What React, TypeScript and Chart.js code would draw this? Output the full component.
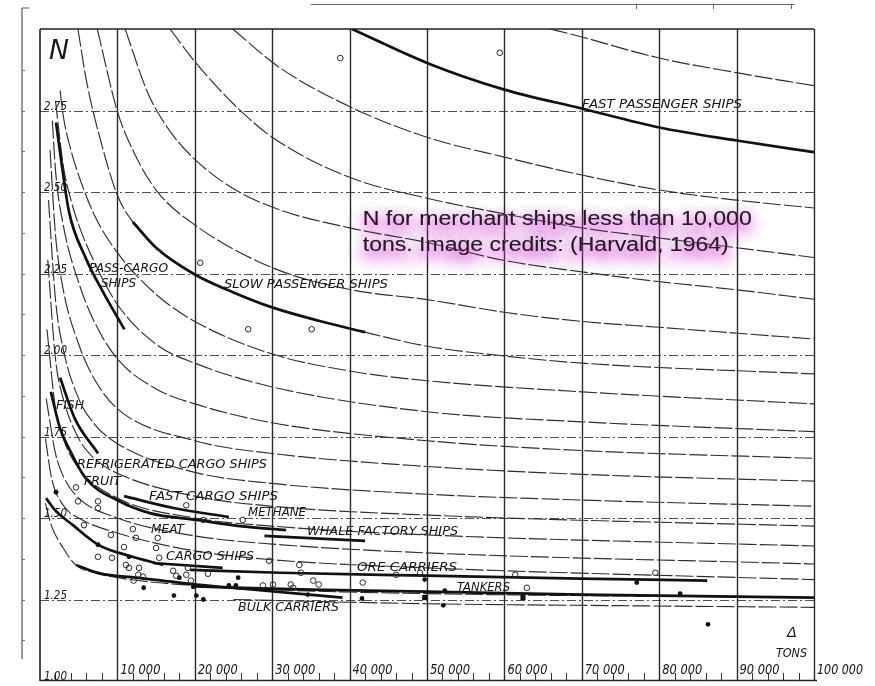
import React, { useEffect, useRef } from "react";
import { Chart, registerables } from "chart.js";

Chart.register(...registerables);

// Displacement in thousands of tons, paired with N.
// Thin iso-curves of the diagram, from top-right to bottom-left.
const isoA: [number, number][] = [[65.9, 3.0], [68.5, 2.985], [80, 2.911], [90, 2.866], [100, 2.826]];
const isoB: [number, number][] = [[24.9, 3.0], [31, 2.881], [40, 2.762], [50, 2.668], [60, 2.607], [70, 2.552], [80, 2.506], [90, 2.475], [100, 2.451]];
const isoC: [number, number][] = [[16.8, 3.0], [20, 2.9], [25, 2.77], [30, 2.668], [40, 2.545], [50, 2.481], [60, 2.433], [70, 2.39], [80, 2.359], [90, 2.329], [100, 2.299]];
const isoD: [number, number][] = [[11, 3.0], [14, 2.8], [17, 2.68], [20, 2.6], [25, 2.51], [31, 2.445], [40, 2.39], [50, 2.345], [60, 2.29], [70, 2.255], [80, 2.225], [90, 2.2], [100, 2.171]];
const isoE: [number, number][] = [[7.4, 3.0], [10, 2.747], [12, 2.628], [15, 2.506], [20, 2.399], [30, 2.268], [40, 2.201], [50, 2.17], [60, 2.131], [70, 2.103], [80, 2.085], [100, 2.049]];
const isoF: [number, number][] = [[4.9, 3.0], [6, 2.841], [8, 2.643], [10, 2.49], [12, 2.408], [15, 2.329], [20, 2.247], [25, 2.192], [30, 2.146], [42, 2.07], [50, 2.027], [60, 1.997], [70, 1.975], [100, 1.942]];
const isoG: [number, number][] = [[2.6, 2.811], [3, 2.734], [4, 2.628], [5, 2.551], [7, 2.43], [10, 2.314], [15, 2.186], [20, 2.103], [30, 2.003], [40, 1.951], [50, 1.921], [70, 1.887], [100, 1.85]];
const isoH: [number, number][] = [[2, 2.78], [3, 2.582], [4, 2.475], [5, 2.399], [7, 2.286], [10, 2.155], [15, 2.033], [20, 1.975], [30, 1.902], [50, 1.826], [70, 1.795], [100, 1.765]];
const isoI: [number, number][] = [[1.6, 2.719], [2, 2.567], [3, 2.399], [5, 2.222], [7, 2.103], [10, 1.988], [15, 1.896], [20, 1.85], [30, 1.792], [50, 1.737], [70, 1.707], [100, 1.683]];
const isoJ: [number, number][] = [[1.3, 2.628], [2, 2.369], [3, 2.201], [5, 2.033], [7, 1.927], [10, 1.835], [20, 1.737], [30, 1.698], [50, 1.658], [70, 1.634], [100, 1.613]];
const isoK: [number, number][] = [[1.1, 2.475], [2, 2.17], [3, 2.018], [5, 1.866], [7, 1.789], [10, 1.728], [20, 1.64], [30, 1.606], [50, 1.573], [70, 1.555], [100, 1.536]];
const isoL: [number, number][] = [[1, 2.292], [2, 1.988], [3, 1.866], [5, 1.744], [7, 1.683], [10, 1.637], [20, 1.567], [30, 1.536], [50, 1.509], [100, 1.475]];
const isoM: [number, number][] = [[0.9, 2.079], [2, 1.835], [3, 1.744], [5, 1.652], [10, 1.561], [20, 1.5], [30, 1.475], [50, 1.448], [100, 1.414]];
const isoN: [number, number][] = [[0.8, 1.866], [2, 1.698], [3, 1.628], [5, 1.561], [10, 1.5], [20, 1.445], [30, 1.42], [50, 1.393], [100, 1.359]];
const isoO: [number, number][] = [[0.7, 1.744], [1.5, 1.622], [3, 1.539], [5, 1.5], [10, 1.454], [20, 1.399], [30, 1.372], [50, 1.347], [100, 1.311]];
const isoP: [number, number][] = [[0.7, 1.545], [1.5, 1.475], [3, 1.408], [4.6, 1.356], [7, 1.332], [10, 1.317], [15, 1.302], [20, 1.293], [30, 1.28], [50, 1.268], [100, 1.256]];

// Mean lines for each ship type
const fastPassenger: [number, number][] = [[40.3, 3.0], [50, 2.896], [60, 2.814], [70, 2.756], [80, 2.698], [90, 2.658], [100, 2.622]];
const slowPassenger: [number, number][] = [[12, 2.408], [15, 2.329], [20, 2.247], [25, 2.192], [30, 2.146], [36, 2.105], [42, 2.07]];
const passCargo: [number, number][] = [[2.07, 2.713], [2.7, 2.603], [3.75, 2.439], [5.9, 2.298], [8.1, 2.195], [10.9, 2.079]];
const fish: [number, number][] = [[2.6, 1.93], [4.5, 1.805], [7.5, 1.698]];
const refrigerated: [number, number][] = [[1.4, 1.887], [2.6, 1.774], [3.75, 1.713], [5.9, 1.622], [10.2, 1.552], [14.2, 1.515], [20.2, 1.494], [25.8, 1.475], [31.8, 1.463]];
const fastCargo: [number, number][] = [[10.85, 1.567], [17.4, 1.53], [24.4, 1.503]];
const whaleFactory: [number, number][] = [[29, 1.445], [42, 1.43]];
const cargoShips: [number, number][] = [[0.78, 1.561], [1.94, 1.524], [4.26, 1.478], [7.6, 1.417], [11.5, 1.384], [15.9, 1.356]];
const cargoShipsUpper: [number, number][] = [[14.6, 1.362], [23.6, 1.347]];
const oreCarriers: [number, number][] = [[19.4, 1.341], [31, 1.332], [50, 1.323], [69.8, 1.314], [86.2, 1.308]];
const tankers: [number, number][] = [[20, 1.29], [35, 1.28], [50, 1.274], [70, 1.265], [100, 1.256]];
const bulkCarriers: [number, number][] = [[4.65, 1.356], [7.75, 1.33], [12.4, 1.317], [20.2, 1.296], [26.2, 1.283], [39.1, 1.256]];
const bulkCarriersTail: [number, number][] = [[25, 1.25], [50, 1.237], [75, 1.231], [100, 1.226]];

// Individual ships
const openShips: [number, number][] = [
  [38.8, 2.911], [59.4, 2.927], [20.7, 2.283], [26.9, 2.079], [35.1, 2.079],
  [4.65, 1.594], [4.91, 1.551], [7.49, 1.551], [7.49, 1.53], [5.68, 1.478], [9.17, 1.448],
  [12.0, 1.466], [12.4, 1.439], [10.85, 1.411], [7.49, 1.381], [9.3, 1.378], [11.1, 1.356],
  [11.5, 1.347], [12.8, 1.347], [12.7, 1.326], [13.3, 1.32], [12.1, 1.308], [17.2, 1.338],
  [17.6, 1.323], [18.9, 1.326], [19.5, 1.308], [19.1, 1.347], [15.2, 1.439], [15.0, 1.408],
  [15.4, 1.378], [18.9, 1.539], [21.1, 1.494], [26.2, 1.494], [21.7, 1.329], [29.6, 1.369],
  [33.5, 1.356], [33.7, 1.332], [28.8, 1.293], [30.1, 1.296], [32.4, 1.296], [32.7, 1.286],
  [35.3, 1.308], [36.0, 1.296], [41.7, 1.302], [46.0, 1.326], [49.1, 1.332], [61.4, 1.326],
  [62.9, 1.286], [79.5, 1.332],
];
const filledShips: [number, number][] = [
  [2.07, 1.579], [7.49, 1.418], [11.5, 1.381], [13.4, 1.286], [17.3, 1.262], [18.0, 1.317],
  [19.8, 1.289], [20.2, 1.262], [21.1, 1.25], [24.4, 1.293], [25.6, 1.317], [25.3, 1.293],
  [34.6, 1.265], [41.6, 1.253], [49.7, 1.311], [52.3, 1.277], [52.1, 1.232], [77.1, 1.302],
  [82.7, 1.268], [86.3, 1.174],
];
const squareShips: [number, number][] = [[49.7, 1.256], [62.4, 1.256]];
const outsideShips: [number, number][] = [[101.4, 1.22]];

// Axis labelling
const tonTicks = ["10 000", "20 000", "30 000", "40 000", "50 000", "60 000", "70 000", "80 000", "90 000", "100 000"];
const nTicks = ["1.00", "1.25", "1.50", "1.75", "2.00", "2.25", "2.50", "2.75"];

const typeLabels: { text: string; t: number; n: number; w: number }[] = [
  { text: "FAST PASSENGER SHIPS", t: 70030, n: 2.759, w: 160 },
  { text: "SLOW PASSENGER SHIPS", t: 23770, n: 2.207, w: 164 },
  { text: "PASS-CARGO", t: 6330, n: 2.256, w: 79 },
  { text: "SHIPS", t: 7880, n: 2.21, w: 35 },
  { text: "FISH", t: 2070, n: 1.835, w: 28 },
  { text: "REFRIGERATED CARGO SHIPS", t: 4780, n: 1.652, w: 190 },
  { text: "FRUIT", t: 5680, n: 1.6, w: 37 },
  { text: "FAST CARGO SHIPS", t: 14080, n: 1.555, w: 129 },
  { text: "METHANE", t: 26870, n: 1.506, w: 58 },
  { text: "MEAT", t: 14340, n: 1.454, w: 33 },
  { text: "WHALE FACTORY SHIPS", t: 34500, n: 1.448, w: 151 },
  { text: "CARGO SHIPS", t: 16280, n: 1.372, w: 88 },
  { text: "ORE CARRIERS", t: 40960, n: 1.338, w: 100 },
  { text: "TANKERS", t: 53880, n: 1.277, w: 53 },
  { text: "BULK CARRIERS", t: 25580, n: 1.216, w: 101 },
  { text: "TONS", t: 95090, n: 1.073, w: 31 },
];

const captionLines = ["N for merchant ships less than 10,000", "tons. Image credits: (Harvald, 1964)"];

const toPts = (arr: [number, number][]) => arr.map(([t, n]) => ({ x: t * 1000, y: n }));

const thinCurve = (arr: [number, number][]) => ({
  data: toPts(arr),
  showLine: true,
  pointRadius: 0,
  borderColor: "#2f2f2f",
  borderWidth: 1.15,
  borderDash: [18, 3],
  cubicInterpolationMode: "monotone" as const,
  fill: false,
});

const thickCurve = (arr: [number, number][]) => ({
  data: toPts(arr),
  showLine: true,
  pointRadius: 0,
  borderColor: "#111",
  borderWidth: 2.7,
  cubicInterpolationMode: "monotone" as const,
  fill: false,
});

const LABEL_FONT = "'DejaVu Sans', sans-serif";

function fitText(ctx: CanvasRenderingContext2D, text: string, x: number, base: number, w: number, size: number, italic = true, family = LABEL_FONT) {
  ctx.font = `${italic ? "italic " : ""}${size}px ${family}`;
  const m = ctx.measureText(text).width;
  ctx.save();
  ctx.translate(x, base);
  ctx.scale(w / m, 1);
  ctx.fillText(text, 0, 0);
  ctx.restore();
}

const paperPlugin = {
  id: "paper",
  beforeDraw(chart: any) {
    const { ctx, width, height } = chart;
    ctx.save();
    ctx.fillStyle = "#ffffff";
    ctx.fillRect(0, 0, width, height);
    ctx.restore();
  },
  beforeDatasetsDraw(chart: any) {
    const { ctx, chartArea: a, scales } = chart;
    const sx = scales.x;
    const sy = scales.y;
    ctx.save();

    // dash-dot horizontal grid
    ctx.strokeStyle = "#505050";
    ctx.lineWidth = 1;
    ctx.setLineDash([9, 3, 2, 3]);
    for (let i = 1; i < nTicks.length; i++) {
      const py = Math.round(sy.getPixelForValue(1 + i * 0.25)) + 0.5;
      ctx.beginPath();
      ctx.moveTo(a.left, py);
      ctx.lineTo(a.right, py);
      ctx.stroke();
    }

    // solid vertical grid every 10 000 tons
    ctx.setLineDash([]);
    ctx.strokeStyle = "#2a2a2a";
    ctx.lineWidth = 1.4;
    for (let i = 1; i <= tonTicks.length; i++) {
      const px = Math.round(sx.getPixelForValue(i * 10000)) + 0.5;
      ctx.beginPath();
      ctx.moveTo(px, a.top);
      ctx.lineTo(px, a.bottom);
      ctx.stroke();
    }

    // frame
    ctx.strokeStyle = "#222";
    ctx.lineWidth = 1.6;
    ctx.beginPath();
    ctx.moveTo(a.left, a.top);
    ctx.lineTo(a.right, a.top);
    ctx.moveTo(a.left, a.top);
    ctx.lineTo(a.left, a.bottom);
    ctx.moveTo(a.left, a.bottom - 0.5);
    ctx.lineTo(a.right + 3, a.bottom - 0.5);
    ctx.stroke();

    // minor ticks every 2 000 tons
    ctx.lineWidth = 1;
    ctx.strokeStyle = "#333";
    for (let t = 2000; t < 100000; t += 2000) {
      if (t % 10000 === 0) continue;
      const px = Math.round(sx.getPixelForValue(t)) + 0.5;
      ctx.beginPath();
      ctx.moveTo(px, a.bottom);
      ctx.lineTo(px, a.bottom - 8);
      ctx.stroke();
    }

    // outer scale line on the left and top margin
    ctx.strokeStyle = "#555";
    ctx.lineWidth = 1.2;
    ctx.beginPath();
    ctx.moveTo(a.left - 18, 8);
    ctx.lineTo(a.left - 18, a.bottom - 22);
    ctx.moveTo(a.left - 18, 8);
    ctx.lineTo(a.left - 11, 8);
    ctx.stroke();
    ctx.lineWidth = 1;
    ctx.strokeStyle = "#777";
    for (let v = 1.125; v < 3; v += 0.125) {
      const py = Math.round(sy.getPixelForValue(v)) + 0.5;
      ctx.beginPath();
      ctx.moveTo(a.left - 18, py);
      ctx.lineTo(a.left - 15, py);
      ctx.stroke();
    }
    ctx.strokeStyle = "#666";
    ctx.beginPath();
    ctx.moveTo(sx.getPixelForValue(35000), 4.5);
    ctx.lineTo(sx.getPixelForValue(97500), 4.5);
    ctx.stroke();
    for (const t of [77000, 87000, 97000]) {
      const px = Math.round(sx.getPixelForValue(t)) + 0.5;
      ctx.beginPath();
      ctx.moveTo(px, 4);
      ctx.lineTo(px, 9);
      ctx.stroke();
    }

    ctx.restore();
  },
  afterDatasetsDraw(chart: any) {
    const { ctx, chartArea: a, scales } = chart;
    const sx = scales.x;
    const sy = scales.y;
    ctx.save();
    ctx.fillStyle = "#151515";
    ctx.textBaseline = "alphabetic";

    // N tick labels, sitting just above their grid lines
    nTicks.forEach((lab, i) => {
      const py = sy.getPixelForValue(1 + i * 0.25);
      fitText(ctx, lab, a.left + 4, py - 1, 23, 13);
    });

    // tonnage labels along the bottom
    tonTicks.forEach((lab, i) => {
      const px = sx.getPixelForValue((i + 1) * 10000);
      fitText(ctx, lab, px + 3, a.bottom - 7, i === tonTicks.length - 1 ? 46 : 40, 13.5);
    });

    // axis symbols
    ctx.fillStyle = "#1a1a1a";
    fitText(ctx, "N", sx.getPixelForValue(1160), sy.getPixelForValue(2.908), 20, 26);
    fitText(ctx, "\u0394", sx.getPixelForValue(96510), sy.getPixelForValue(1.134), 10, 14);

    // ship-type labels
    ctx.fillStyle = "#151515";
    for (const l of typeLabels) {
      fitText(ctx, l.text, sx.getPixelForValue(l.t), sy.getPixelForValue(l.n), l.w, 13);
    }

    // caption with soft pink highlight
    const cx = sx.getPixelForValue(41700);
    const bases = [sy.getPixelForValue(2.399), sy.getPixelForValue(2.32)];
    const widths = [389, 366];
    const family = "'Liberation Sans', Arial, sans-serif";
    captionLines.forEach((line, i) => {
      ctx.save();
      ctx.shadowColor = "rgba(222, 80, 222, 0.95)";
      ctx.shadowBlur = 14;
      ctx.shadowOffsetY = 6;
      ctx.fillStyle = "rgba(228, 130, 228, 0.55)";
      for (let k = 0; k < 4; k++) fitText(ctx, line, cx, bases[i], widths[i], 20, false, family);
      ctx.restore();
      ctx.fillStyle = "#1e1e1e";
      fitText(ctx, line, cx, bases[i], widths[i], 20, false, family);
    });

    ctx.restore();
  },
};

export default function App() {
  const ref = useRef<HTMLCanvasElement>(null);

  useEffect(() => {
    if (!ref.current) return;
    const thin = [isoA, isoB, isoC, isoD, isoE, isoF, isoG, isoH, isoI, isoJ, isoK, isoL, isoM, isoN, isoO, isoP, bulkCarriersTail].map(thinCurve);
    const thick = [fastPassenger, slowPassenger, passCargo, fish, refrigerated, fastCargo, whaleFactory, cargoShips, cargoShipsUpper, oreCarriers, tankers, bulkCarriers].map(thickCurve);

    const chart = new Chart(ref.current, {
      type: "scatter",
      data: {
        datasets: [
          {
            data: toPts(openShips),
            pointStyle: "circle",
            pointRadius: 2.8,
            pointBorderWidth: 1,
            pointBorderColor: "#2a2a2a",
            pointBackgroundColor: "rgba(255,255,255,0)",
          },
          {
            data: toPts(filledShips),
            pointStyle: "circle",
            pointRadius: 2.4,
            pointBorderWidth: 0,
            pointBackgroundColor: "#111",
          },
          {
            data: toPts(squareShips),
            pointStyle: "rect",
            pointRadius: 3.6,
            pointBorderWidth: 0,
            pointBackgroundColor: "#111",
          },
          {
            data: toPts(outsideShips),
            pointStyle: "circle",
            pointRadius: 2.4,
            pointBorderWidth: 0,
            pointBackgroundColor: "#111",
            clip: false,
          },
          ...thick,
          ...thin,
        ] as any,
      },
      options: {
        animation: false,
        responsive: false,
        devicePixelRatio: 1,
        events: [],
        layout: { padding: { left: 40, top: 29, right: 61, bottom: 2 } },
        scales: {
          x: { type: "linear", min: 0, max: 100000, display: false },
          y: { type: "linear", min: 1, max: 3, display: false },
        },
        plugins: { legend: { display: false }, tooltip: { enabled: false } },
      },
      plugins: [paperPlugin],
    });
    return () => chart.destroy();
  }, []);

  return (
    <div style={{ position: "fixed", left: 0, top: 0, width: 875, height: 686, background: "#fff" }}>
      <canvas ref={ref} width={875} height={686} style={{ display: "block", width: 875, height: 686 }} />
    </div>
  );
}
